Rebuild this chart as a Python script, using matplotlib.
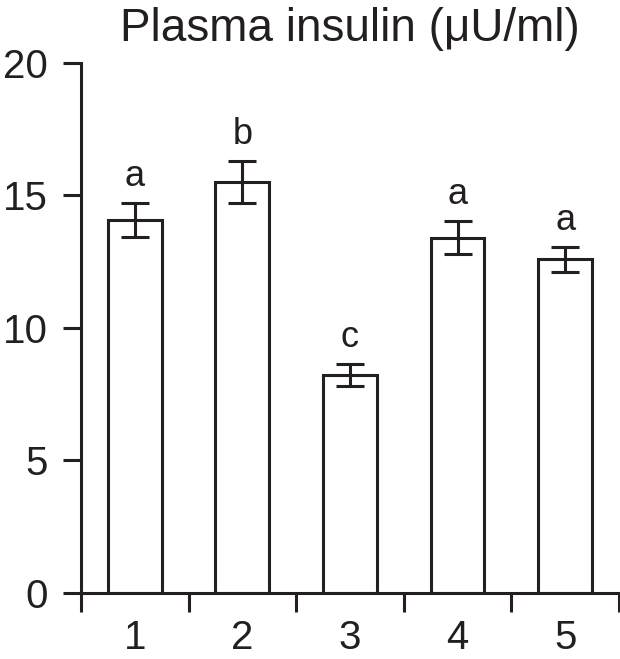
"""
Bar chart of plasma insulin per group with SEM error bars and significance letters.
"""

import matplotlib
matplotlib.use("Agg")
import matplotlib.pyplot as plt
import numpy as np

groups = ["1", "2", "3", "4", "5"]
insulin = [14.08, 15.50, 8.23, 13.41, 12.60]
sem = [0.64, 0.80, 0.41, 0.63, 0.47]
letters = ["a", "b", "c", "a", "a"]
y_ticks = [0, 5, 10, 15, 20]

INK = "#231f20"
plt.rcParams["font.family"] = ["Liberation Sans", "DejaVu Sans"]

fig = plt.figure(figsize=(6.2, 6.59), dpi=100)
ax = fig.add_axes([0.1306, 0.1002, 0.8677, 0.8042])

x = np.arange(1, len(groups) + 1)
ax.bar(x, insulin, width=0.5, color="white", edgecolor=INK, linewidth=2.2, zorder=2)
ax.errorbar(x, insulin, yerr=sem, fmt="none", ecolor=INK, elinewidth=2.2,
            capsize=10, capthick=2.2, zorder=3)

for xi, v, e, lab in zip(x, insulin, sem, letters):
    ax.annotate(lab, (xi, v + e), xytext=(0, 12), textcoords="offset points",
                ha="center", va="baseline", fontsize=26, color=INK)

ax.set_xlim(0.5, len(groups) + 0.5)
ax.set_ylim(0, 20)
ax.set_yticks(y_ticks)
ax.set_yticklabels([str(t) for t in y_ticks])

# boundary ticks between groups, labels centred on the bars
ax.set_xticks(np.arange(0.5, len(groups) + 1, 1.0))
ax.set_xticklabels([])
ax.set_xticks(x, minor=True)
ax.set_xticklabels(groups, minor=True)

ax.tick_params(axis="x", which="major", length=13.7, width=2.2, color=INK, direction="out")
ax.tick_params(axis="x", which="minor", length=0, pad=19, labelsize=29, labelcolor=INK)
ax.tick_params(axis="y", length=13, width=2.2, color=INK, pad=11, labelsize=29, labelcolor=INK)

for side in ["top", "right"]:
    ax.spines[side].set_visible(False)
for side in ["left", "bottom"]:
    ax.spines[side].set_linewidth(2.2)
    ax.spines[side].set_color(INK)

fig.text(0.5645, 0.99, "Plasma insulin (\u03bcU/ml)", ha="center", va="top",
         fontsize=33, color=INK)

plt.savefig("out.png", dpi=100)
plt.close()
